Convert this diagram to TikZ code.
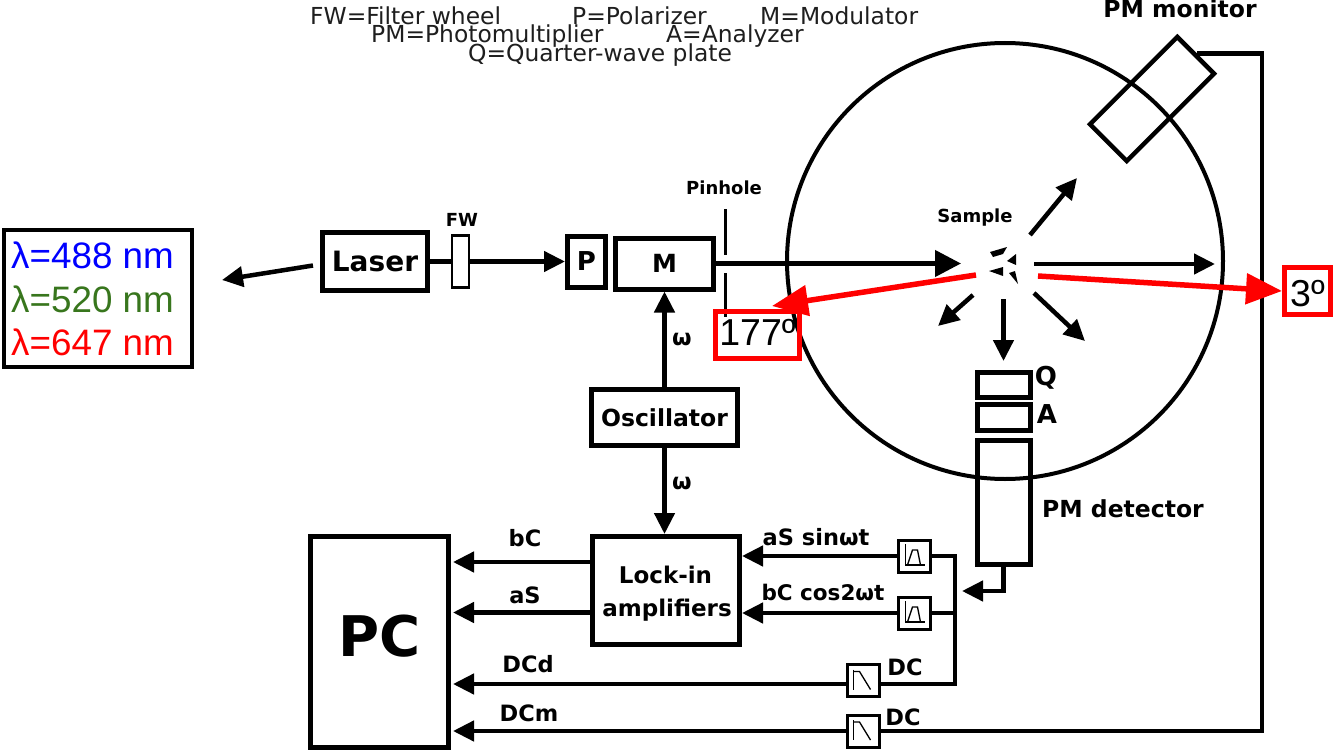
\documentclass[tikz,border=0pt]{standalone}
\usepackage{fontspec}
\setmainfont{DejaVu Sans}
\newfontfamily\arialfont{Liberation Sans}
\usetikzlibrary{arrows.meta}
\definecolor{lgreen}{RGB}{56,118,29}
\definecolor{topgray}{RGB}{30,30,30}
\tikzset{
  box/.style={draw, line width=5pt, inner sep=0pt, font=\bfseries\fontsize{23.5}{28}\selectfont},
  fbox/.style={draw, line width=3pt, inner sep=0pt, fill=white, minimum width=32pt, minimum height=32pt},
  lab/.style={inner sep=0pt, font=\bfseries\fontsize{22.5}{22.5}\selectfont},
  small/.style={inner sep=0pt, font=\bfseries\fontsize{18}{18}\selectfont},
  toptext/.style={inner sep=0pt, anchor=west, text=topgray, font=\fontsize{23.4}{23.4}\selectfont},
  wave/.style={inner sep=0pt, anchor=west, font=\arialfont\fontsize{36.8}{36.8}\selectfont},
  angle/.style={draw=red, line width=5pt, inner sep=0pt, font=\arialfont\fontsize{37.5}{37.5}\selectfont},
  wire/.style={line width=4.5pt},
  arr/.style={line width=4.5pt, -{Triangle[length=21pt,width=20pt]}},
  beam/.style={line width=4.5pt, -{Triangle[length=26pt,width=26pt]}},
  redarr/.style={line width=5.5pt, red, -{Triangle[length=36pt,width=30pt]}},
  glyph/.style={line width=1.3pt},
}
\begin{document}
\begin{tikzpicture}[x=1pt, y=-1pt]
\useasboundingbox (0,0) rectangle (1334,752);

% top legend
\node[toptext] (tfw) at (310,16) {FW=Filter wheel};
\node[toptext] (tp) at (572,16) {P=Polarizer};
\node[toptext] (tm) at (760,16) {M=Modulator};
\node[toptext] (tpm) at (371,36) {PM=Photomultiplier};
\node[toptext] (ta) at (666,36) {A=Analyzer};
\node[toptext] (tq) at (468,55) {Q=Quarter-wave plate};

% circle and monitor
\node[draw, circle, line width=4pt, minimum size=436pt, inner sep=0pt] (sphere) at (1005,261) {};
\node[draw, line width=4.5pt, inner sep=0pt, minimum width=123.5pt, minimum height=52pt, rotate=45] (monitor) at (1152,99) {};
\node[lab, font=\bfseries\fontsize{23.5}{23.5}\selectfont] (lmonitor) at (1180,9) {PM monitor};

% wavelengths
\node[draw, line width=4pt, minimum width=188pt, minimum height=137pt, fill=white] (waves) at (98,298.5) {};
\node[wave, text=blue] (w1) at (11,255) {λ=488 nm};
\node[wave, text=lgreen] (w2) at (11,299) {λ=520 nm};
\node[wave, text=red] (w3) at (11,342.5) {λ=647 nm};

% beam line
\node[box, font=\bfseries\fontsize{28}{28}\selectfont, minimum width=105pt, minimum height=58pt] (laser) at (375,261.5) {Laser};
\node[draw, line width=2.5pt, minimum width=17pt, minimum height=52pt, inner sep=0pt] (fw) at (460.5,261.5) {};
\node[small] (lfw) at (462,220) {FW};
\node[box, font=\bfseries\fontsize{26}{26}\selectfont, minimum width=38pt, minimum height=51pt] (pol) at (586.5,261.5) {P};
\node[box, font=\bfseries\fontsize{25}{25}\selectfont, minimum width=98pt, minimum height=51pt] (mod) at (664.5,263.5) {M};
\node[small] (lpin) at (724,188) {Pinhole};
\coordinate (pin1) at (725,209);
\coordinate (pin2) at (725,255);
\coordinate (pin3) at (725,273);
\coordinate (pin4) at (725,317);
\coordinate (laserout) at (222,280);
\coordinate (lasertail) at (313,265.5);
\coordinate (beamin) at (961,263.5);

\draw[arr] (lasertail) -- (laserout);
\draw[wire] (laser) -- (fw);
\draw[arr] (fw) -- (pol);
\draw[beam] (mod) -- (beamin);
\draw[line width=3pt] (pin1) -- (pin2);
\draw[line width=3pt] (pin3) -- (pin4);

% sample
\node[small] (lsample) at (975,218) {Sample};
\fill (990,252) -- (1007,247) -- (1003,254) -- (993,257) -- cycle;
\fill (1016,254) -- (1007,261) -- (1016,265) -- cycle;
\fill (989,271) -- (1003,267) -- (1003,276) -- cycle;
\fill (1009,273) -- (1015,271) -- (1018,284) -- cycle;
\coordinate (s1) at (1030,235);
\coordinate (e1) at (1077,178);
\coordinate (s2) at (1034,264);
\coordinate (e2) at (1215,264);
\coordinate (s3) at (1034,293);
\coordinate (e3) at (1085,341);
\coordinate (s4) at (973,295);
\coordinate (e4) at (938,326);
\coordinate (s5) at (1003.5,299);
\draw[arr] (s1) -- (e1);
\draw[arr] (s2) -- (e2);
\draw[arr] (s3) -- (e3);
\draw[arr] (s4) -- (e4);

% detector
\node[box, minimum width=53pt, minimum height=25pt] (qwp) at (1003.5,385) {};
\node[box, minimum width=53pt, minimum height=26pt] (ana) at (1003.5,417.5) {};
\node[box, minimum width=53pt, minimum height=124pt] (det) at (1003.5,502.5) {};
\node[lab, font=\bfseries\fontsize{26}{26}\selectfont] (lq) at (1046,378) {Q};
\node[lab, font=\bfseries\fontsize{26}{26}\selectfont] (la) at (1047,414) {A};
\node[lab, font=\bfseries\fontsize{23.5}{23.5}\selectfont] (ldet) at (1123,509) {PM detector};
\coordinate (e5) at (1003.5,361);
\draw[arr] (s5) -- (e5);

% electronics
\node[box, minimum width=146pt, minimum height=56pt] (osc) at (664.5,417.5) {Oscillator};
\node[box, minimum width=147pt, minimum height=108pt] (lockin) at (666,590.5) {};
\node[lab, font=\bfseries\fontsize{23}{23}\selectfont] (llock) at (665.5,575) {Lock-in};
\node[lab, font=\bfseries\fontsize{23}{23}\selectfont] (lamp) at (667,610) {amplifiers};
\node[box, text depth=12pt, font=\bfseries\fontsize{56}{56}\selectfont, minimum width=138pt, minimum height=211pt] (pc) at (379.5,642) {PC};
\node[lab] (w4) at (682,339) {ω};
\node[lab] (w5) at (682,483) {ω};
\draw[arr] (osc.north) -- (mod.south);
\draw[arr] (osc.south) -- (osc.south |- lockin.north);

% filters
\node[fbox] (fb1) at (914.5,556) {};
\node[fbox] (fb2) at (914.5,613) {};
\node[fbox] (fl1) at (863.5,680.5) {};
\node[fbox] (fl2) at (863.5,731) {};
\foreach \f in {fb1,fb2} {
  \draw[glyph] ([shift={(-9,-12)}]\f.center) -- ([shift={(-9,9)}]\f.center) -- ([shift={(10,9)}]\f.center);
  \draw[glyph] ([shift={(-7,9)}]\f.center) -- ([shift={(-2,-6)}]\f.center) -- ([shift={(3,-6)}]\f.center) -- ([shift={(6,9)}]\f.center);
}
\foreach \f in {fl1,fl2} {
  \draw[glyph] ([shift={(-10,-11)}]\f.center) -- ([shift={(-10,9)}]\f.center);
  \draw[glyph] ([shift={(-10,-9)}]\f.center) -- ([shift={(-4,-9)}]\f.center) -- ([shift={(7,9)}]\f.center);
}

\coordinate (pcb) at (453,562);
\coordinate (pca) at (453,612.5);
\coordinate (pcd) at (453,684);
\coordinate (pcm) at (453,731);
\coordinate (lockb) at (742,556);
\coordinate (lockc) at (742,613);
\coordinate (j1) at (955,556);
\coordinate (j2) at (955,613);
\coordinate (j3) at (955,684);
\coordinate (m2) at (1262,731);
\coordinate (tapin) at (962,591);

\draw[arr] (lockin.west |- pcb) -- (pcb);
\draw[arr] (lockin.west |- pca) -- (pca);
\draw[arr] (fl1.west |- pcd) -- (pcd);
\draw[arr] (fl2.west |- pcm) -- (pcm);
\draw[arr] (fb1) -- (lockb);
\draw[arr] (fb2) -- (lockc);
\draw[wire] (fb1.east |- j1) -- (j1) -- (j3) -- (fl1.east |- j3);
\draw[wire] (fb2.east |- j2) -- (j2);
\draw[wire] (monitor.east) -| (m2) -- (fl2.east |- m2);
\draw[arr] (det.south) |- (tapin);

\node[lab] (lbc) at (525,538) {bC};
\node[lab] (las) at (525,595) {aS};
\node[lab] (ldcd) at (528,664) {DCd};
\node[lab] (ldcm) at (529,713) {DCm};
\node[lab] (lsin) at (816,537) {aS sinωt};
\node[lab, font=\bfseries\fontsize{21.5}{21.5}\selectfont] (lcos) at (823,592) {bC cos2ωt};
\node[lab] (ldc1) at (905,667) {DC};
\node[lab] (ldc2) at (903,717) {DC};

% red angles
\node[angle, text depth=5pt, minimum width=84pt, minimum height=47pt] (a177) at (757.5,335) {177º};
\node[angle, text height=32pt, minimum width=46pt, minimum height=47pt] (a3) at (1307.5,291) {3º};
\coordinate (r1) at (976,275);
\coordinate (r2) at (772,306);
\coordinate (r3) at (1038,276);
\draw[redarr] (r1) -- (r2);
\draw[redarr] (r3) -- (a3.west);
\end{tikzpicture}
\end{document}
